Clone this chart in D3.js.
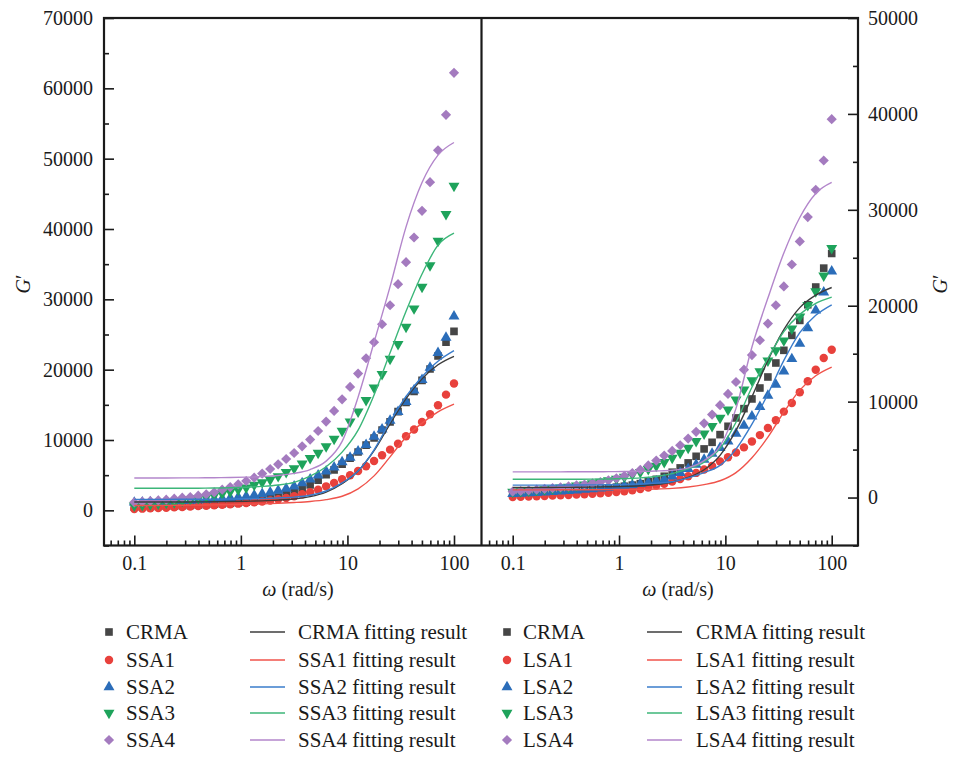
<!DOCTYPE html>
<html><head><meta charset="utf-8">
<script src="https://cdn.jsdelivr.net/npm/d3@7"></script>
<style>
body{margin:0;background:#fff}
svg{display:block;background:#fff}
text{font-family:"Liberation Serif","Times New Roman",serif;fill:#1a1a1a}
</style>
</head><body>
<svg id="chart" width="953" height="758"></svg>
<script>
// ---------- DATA ----------
const omega = [0.1,0.1189,0.1413,0.1679,0.1995,0.2371,0.2818,0.3350,0.3981,0.4732,0.5623,0.6683,0.7943,0.9441,1.122,1.334,1.585,1.884,2.239,2.661,3.162,3.758,4.467,5.309,6.310,7.499,8.913,10.59,12.59,14.96,17.78,21.13,25.12,29.85,35.48,42.17,50.12,59.57,70.79,84.14,100];
const fitOmega = [0.1,0.1413,0.1995,0.2818,0.3981,0.5623,0.7943,1.122,1.585,2.239,3.162,4.467,6.310,8.913,12.59,17.78,25.12,35.48,50.12,70.79,100];

const xTicks = [0.1,1,10,100];
const xTickLabels = ["0.1","1","10","100"];
const leftYTicks = [0,10000,20000,30000,40000,50000,60000,70000];
const rightYTicks = [0,10000,20000,30000,40000,50000];

const crma = [450,480,510,550,590,630,670,710,760,810,870,930,1000,1080,1180,1300,1450,1650,1900,2220,2640,3090,3610,4300,5070,5760,6560,7430,8300,9270,10280,11420,12570,14030,15350,16910,18470,20100,21950,23920,25450];
const crmaFitLeft = [1180,1180,1180,1190,1200,1220,1250,1290,1350,1450,1620,1950,2600,3800,5600,8500,12300,15900,18700,20700,21900];
const crmaFitRight = [1050,1050,1050,1060,1070,1090,1120,1160,1230,1360,1620,2100,2900,4400,7000,10500,14300,17500,19800,21100,21900];

const ssa1 = [200,240,280,330,380,430,480,540,600,660,730,800,870,950,1040,1140,1260,1400,1570,1750,1990,2280,2560,2940,3410,3890,4410,4980,5590,6260,7020,7820,8630,9480,10530,11480,12560,13660,14940,16450,18020];
const ssa2 = [1120,1150,1180,1220,1260,1300,1350,1400,1460,1520,1590,1670,1760,1870,2000,2150,2350,2550,2800,3100,3420,3880,4420,4960,5550,6120,6860,7500,8400,9320,10480,11520,12750,14000,15430,17070,18550,20300,22380,24570,27600];
const ssa3 = [660,750,850,950,1040,1140,1330,1520,1710,1890,2130,2370,2660,2940,3230,3600,3980,4370,4840,5410,5970,6640,7400,8150,9100,10140,11280,12620,14040,15650,17450,19350,21520,23610,26080,28690,31770,34810,38310,42100,46130];
const ssa4 = [1140,1230,1330,1420,1520,1660,1800,1890,2090,2280,2560,2940,3310,3700,4170,4650,5220,5880,6540,7300,8150,9100,10060,11280,12620,14130,15790,17540,19440,21620,23900,26460,29160,32150,35280,38790,42580,46660,51200,56230,62200];
const ssa1Fit = [680,690,700,720,740,770,810,860,920,1000,1110,1260,1520,2000,3050,4900,7600,10400,12400,14000,15100];
const ssa2Fit = [1560,1560,1560,1570,1580,1590,1610,1640,1680,1760,1880,2150,2750,3900,5600,8600,12600,16200,19000,21200,22700];
const ssa3Fit = [3130,3130,3130,3140,3150,3170,3210,3280,3400,3600,3980,4850,6200,8280,11400,16400,22400,28300,33600,37700,39400];
const ssa4Fit = [4600,4600,4600,4610,4620,4640,4670,4720,4800,4950,5250,5800,7000,9800,16100,23900,31800,40300,46600,50500,52300];

const lsa1 = [50,80,110,140,170,200,230,270,310,350,400,450,510,580,660,760,900,1040,1250,1440,1670,1940,2220,2570,2920,3300,3750,4200,4700,5230,5840,6510,7250,8060,8960,9860,10970,12120,13330,14550,15420];
const lsa2 = [380,420,460,500,550,600,650,700,760,820,890,960,1040,1120,1210,1310,1420,1550,1700,1875,2220,2570,2990,3440,3960,4580,5180,5870,6670,7500,8470,9450,10630,11770,13160,14450,16040,17670,19510,21400,23580];
const lsa3 = [580,640,700,770,850,930,1020,1120,1230,1350,1480,1620,1780,1950,2150,2380,2650,2950,3300,3680,4130,4650,5180,5870,6670,7430,8300,9170,10210,11250,12220,13160,14270,15350,16370,17620,18860,20050,21490,23130,26010];
const lsa4 = [620,680,750,820,900,980,1070,1160,1260,1360,1480,1620,1800,2000,2250,2550,2900,3350,3850,4380,4860,5450,6150,6850,7740,8650,9630,10800,12050,13330,14850,16400,18140,20050,22010,24300,26700,29240,32080,35140,39450];
const lsa1Fit = [800,800,800,810,810,820,830,840,860,890,960,1100,1350,1750,2600,4150,6300,8900,11200,12700,13600];
const lsa2Fit = [1300,1300,1300,1300,1310,1320,1340,1370,1420,1500,1650,2050,2600,3350,5050,7650,10800,14300,17200,19000,20100];
const lsa3Fit = [1900,1900,1900,1900,1910,1920,1940,1980,2050,2200,2500,3000,3700,5100,7850,11500,14500,17300,19100,20250,20900];
const lsa4Fit = [2680,2680,2680,2680,2690,2690,2700,2710,2730,2770,2850,3100,3850,5350,9300,15700,20800,25500,29200,31700,32850];

const leftNames = ["CRMA","SSA1","SSA2","SSA3","SSA4"];
const rightNames = ["CRMA","LSA1","LSA2","LSA3","LSA4"];
const markerColors = ["#464646","#e8413c","#2b6db9","#1ea35b","#a47bbf"];
const lineColors = ["#3c3c3c","#f0534b","#3a7ccb","#3cb679","#b386cb"];
const symbols = ["square","circle","up","down","diamond"];

// ---------- LAYOUT ----------
const W = 953, H = 758;
const plotTop = 18, plotBottom = 545.5;
const Lx0 = 104, Lx1 = 481.5, Rx0 = 481.5, Rx1 = 858;

const svg = d3.select("#chart");
svg.append("rect").attr("width",W).attr("height",H).attr("fill","#fff");

const xL = d3.scaleLog().domain([0.1,100]).range([134.3,454]);
const xR = d3.scaleLog().domain([0.1,100]).range([512.7,831.7]);
const yL = d3.scaleLinear().domain([-5000,70000]).range([plotBottom,plotTop]);
const yR = d3.scaleLinear().domain([-5000,50000]).range([plotBottom,plotTop]);

function symPath(kind){
  if(kind==="square") return d3.symbol(d3.symbolSquare,58)();
  if(kind==="circle") return d3.symbol(d3.symbolCircle,56)();
  if(kind==="up"||kind==="down") return d3.symbol(d3.symbolTriangle,52)();
  return d3.symbol(d3.symbolSquare,52)();
}
function symRot(kind){ return kind==="down"?180:(kind==="diamond"?45:0); }

function drawPanel(x, y, x0, x1, dataSets, fits, id){
  svg.append("clipPath").attr("id",id).append("rect")
    .attr("x",x0).attr("y",plotTop).attr("width",x1-x0).attr("height",plotBottom-plotTop);
  const g = svg.append("g").attr("clip-path",`url(#${id})`);
  dataSets.forEach((d,si)=>{
    g.append("g").selectAll("path").data(omega.map((w,i)=>[w,d[i]])).join("path")
      .attr("d",symPath(symbols[si]))
      .attr("transform",p=>`translate(${x(p[0])},${y(p[1])}) rotate(${symRot(symbols[si])})`)
      .attr("fill",markerColors[si]);
  });
  const line = d3.line().x(p=>x(p[0])).y(p=>y(p[1])).curve(d3.curveMonotoneX);
  fits.forEach((f,si)=>{
    g.append("path").datum(fitOmega.map((w,i)=>[w,f[i]]))
      .attr("d",line).attr("fill","none").attr("stroke",lineColors[si]).attr("stroke-width",1.4);
  });
}

drawPanel(xL,yL,Lx0,Lx1,[crma,ssa1,ssa2,ssa3,ssa4],[crmaFitLeft,ssa1Fit,ssa2Fit,ssa3Fit,ssa4Fit],"clipL");
drawPanel(xR,yR,Rx0,Rx1,[crma,lsa1,lsa2,lsa3,lsa4],[crmaFitRight,lsa1Fit,lsa2Fit,lsa3Fit,lsa4Fit],"clipR");

// ---------- AXES ----------
function styleAxis(g){
  g.select(".domain").remove();
  g.selectAll("line").attr("stroke","#1a1a1a").attr("stroke-width",1.6);
  g.selectAll("text").attr("font-size",20).attr("font-family",'"Liberation Serif","Times New Roman",serif').attr("fill","#1a1a1a");
}
function xAxes(x, x0, x1){
  const full = x.copy().domain([x.invert(x0), x.invert(x1)]).range([x0,x1]);
  const minors = full.ticks().filter(v=>!xTicks.some(t=>Math.abs(t-v)/t<1e-6));
  svg.append("g").attr("transform",`translate(0,${plotBottom})`)
    .call(d3.axisBottom(x).tickValues(minors).tickSize(-5).tickFormat(""))
    .call(styleAxis);
  svg.append("g").attr("transform",`translate(0,${plotBottom})`)
    .call(d3.axisBottom(x).tickValues(xTicks).tickSize(-10).tickPadding(10).tickFormat((d,i)=>xTickLabels[i]))
    .call(styleAxis);
}
xAxes(xL,Lx0,Lx1);
xAxes(xR,Rx0,Rx1);

const leftMinor = d3.range(-5000,70001,5000).filter(v=>v%10000!==0);
svg.append("g").attr("transform",`translate(${Lx0},0)`)
  .call(d3.axisLeft(yL).tickValues(leftMinor).tickSize(-5).tickFormat("")).call(styleAxis);
svg.append("g").attr("transform",`translate(${Lx0},0)`)
  .call(d3.axisLeft(yL).tickValues(leftYTicks).tickSize(-10).tickPadding(11).tickFormat(d3.format("d"))).call(styleAxis);

const rightMinor = d3.range(-5000,50001,5000).filter(v=>v%10000!==0);
svg.append("g").attr("transform",`translate(${Rx1},0)`)
  .call(d3.axisRight(yR).tickValues(rightMinor).tickSize(-5).tickFormat("")).call(styleAxis);
svg.append("g").attr("transform",`translate(${Rx1},0)`)
  .call(d3.axisRight(yR).tickValues(rightYTicks).tickSize(-10).tickPadding(10).tickFormat(d3.format("d"))).call(styleAxis);

// frame
const frame = svg.append("g").attr("stroke","#1a1a1a").attr("stroke-width",2.2).attr("fill","none");
frame.append("rect").attr("x",Lx0).attr("y",plotTop).attr("width",Rx1-Lx0).attr("height",plotBottom-plotTop);
frame.append("line").attr("x1",Lx1).attr("x2",Lx1).attr("y1",plotTop).attr("y2",plotBottom);

// axis titles
function gLabel(x,y){
  const t = svg.append("text").attr("transform",`translate(${x},${y}) rotate(-90)`)
    .attr("text-anchor","middle").attr("font-size",20);
  t.append("tspan").attr("font-style","italic").text("G");
  t.append("tspan").text("\u2032");
}
gLabel(30,284);
gLabel(947,284);
function wLabel(x){
  const t = svg.append("text").attr("x",x).attr("y",596).attr("text-anchor","middle").attr("font-size",20);
  t.append("tspan").attr("font-style","italic").text("\u03c9");
  t.append("tspan").text(" (rad/s)");
}
wLabel(298);
wLabel(678);

// ---------- LEGEND ----------
const rowY = [632,660,687,713,740];
function legend(names, mx, tx, lx0, lx1, ltx){
  names.forEach((n,i)=>{
    svg.append("path").attr("d",symPath(symbols[i]))
      .attr("transform",`translate(${mx},${rowY[i]}) rotate(${symRot(symbols[i])})`)
      .attr("fill",markerColors[i]);
    svg.append("text").attr("x",tx).attr("y",rowY[i]).attr("dy","0.35em").attr("font-size",21).text(n);
    svg.append("line").attr("x1",lx0).attr("x2",lx1).attr("y1",rowY[i]).attr("y2",rowY[i])
      .attr("stroke",lineColors[i]).attr("stroke-width",1.6);
    svg.append("text").attr("x",ltx).attr("y",rowY[i]).attr("dy","0.35em").attr("font-size",21).text(n+" fitting result");
  });
}
legend(leftNames,109,126,250,285,298);
legend(rightNames,507,523,647,682,696);
</script>
</body></html>
